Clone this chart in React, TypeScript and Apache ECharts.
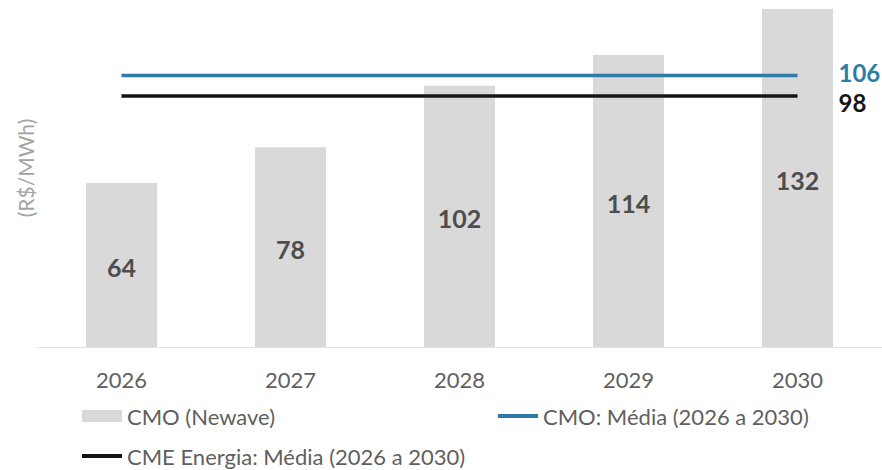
import React, { useEffect, useRef } from "react";
import * as echarts from "echarts";

const categories = ["2026", "2027", "2028", "2029", "2030"];
const cmoValues = [64, 78, 102, 114, 132];
const cmoMedia = [106, 106, 106, 106, 106];
const cmeMedia = [98, 98, 98, 98, 98];

const FONT = "Lato, 'Open Sans', sans-serif";
const BLUE = "#2e7ca6";
const BLACK = "#151515";
const GRAY_TEXT = "#5f5f5f";

export default function App() {
  const ref = useRef<HTMLDivElement>(null);
  useEffect(() => {
    document.body.style.margin = "0";
    const chart = echarts.init(ref.current!, null, { renderer: "svg" });
    chart.setOption({
      animation: false,
      textStyle: { fontFamily: FONT },
      grid: { left: 37, right: 0, top: 9, bottom: 123, containLabel: false },
      xAxis: {
        type: "category",
        data: categories,
        axisLine: { show: true, lineStyle: { color: "#e3e3e3", width: 1 } },
        axisTick: { show: false },
        axisLabel: { color: GRAY_TEXT, fontSize: 22, margin: 21, fontFamily: FONT },
      },
      yAxis: {
        type: "value",
        min: 0,
        max: 132,
        show: false,
        splitLine: { show: false },
      },
      legend: [
        {
          left: 82,
          top: 405,
          padding: 0,
          itemWidth: 40,
          itemHeight: 12,
          data: [{ name: "CMO (Newave)", icon: "rect" }],
          textStyle: { color: GRAY_TEXT, fontSize: 22, fontFamily: FONT },
        },
        {
          left: 498,
          top: 405,
          padding: 0,
          itemWidth: 40,
          itemHeight: 4,
          data: [{ name: "CMO: Média (2026 a 2030)", icon: "rect" }],
          textStyle: { color: GRAY_TEXT, fontSize: 22, fontFamily: FONT },
        },
        {
          left: 82,
          top: 445,
          padding: 0,
          itemWidth: 40,
          itemHeight: 4,
          data: [{ name: "CME Energia: Média (2026 a 2030)", icon: "rect" }],
          textStyle: { color: GRAY_TEXT, fontSize: 22, fontFamily: FONT },
        },
      ],
      graphic: [
        {
          type: "text",
          x: 25,
          y: 168,
          rotation: Math.PI / 2,
          style: {
            text: "(R$/MWh)",
            fill: "#a3a3a3",
            fontSize: 21,
            fontFamily: FONT,
            align: "center",
            verticalAlign: "middle",
          },
        },
      ],
      series: [
        {
          name: "CMO (Newave)",
          type: "bar",
          data: cmoValues,
          barWidth: 71,
          itemStyle: { color: "#d9d9d9" },
          label: {
            show: true,
            position: "inside",
            color: "#4d4d4d",
            fontSize: 25,
            fontWeight: "bold",
            fontFamily: FONT,
            offset: [0, 2],
          },
        },
        {
          name: "CMO: Média (2026 a 2030)",
          type: "line",
          data: cmoMedia,
          symbol: "none",
          lineStyle: { color: BLUE, width: 3.5 },
          itemStyle: { color: BLUE },
          endLabel: {
            show: true,
            distance: 41,
            offset: [0, -3],
            color: BLUE,
            fontSize: 24,
            fontWeight: "bold",
            fontFamily: FONT,
            formatter: (p: any) => String(p.value),
          },
        },
        {
          name: "CME Energia: Média (2026 a 2030)",
          type: "line",
          data: cmeMedia,
          symbol: "none",
          lineStyle: { color: BLACK, width: 3.5 },
          itemStyle: { color: BLACK },
          endLabel: {
            show: true,
            distance: 41,
            offset: [0, 6],
            color: BLACK,
            fontSize: 24,
            fontWeight: "bold",
            fontFamily: FONT,
            formatter: (p: any) => String(p.value),
          },
        },
      ],
    });
    return () => chart.dispose();
  }, []);
  return <div ref={ref} style={{ width: 882, height: 470 }} />;
}
